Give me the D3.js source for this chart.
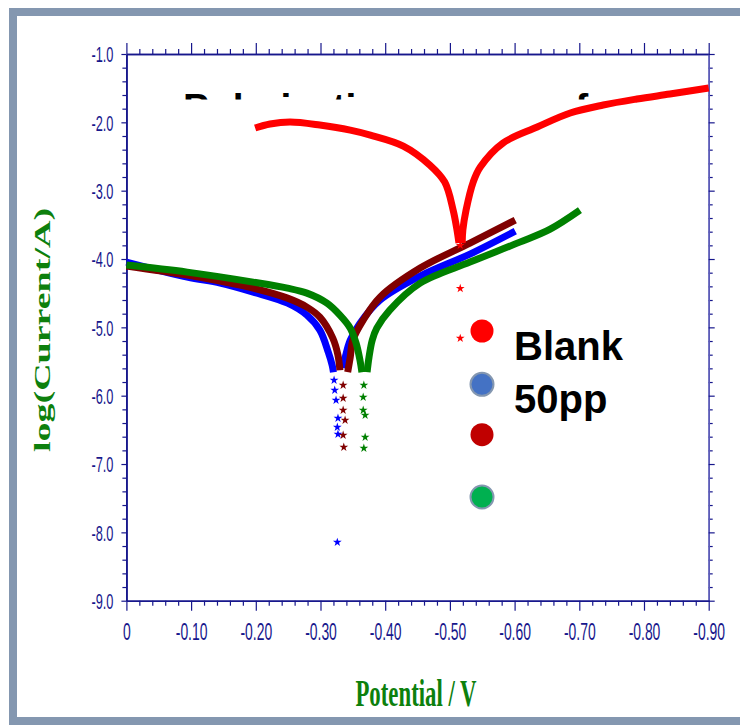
<!DOCTYPE html>
<html>
<head>
<meta charset="utf-8">
<script src="https://cdn.jsdelivr.net/npm/d3@7"></script>
<style>
  body { margin: 0; background: #fff; }
  svg { display: block; }
</style>
</head>
<body>
<div id="chart"></div>
<script>
// potential (V) / log(I) pairs, each curve split at its minimum
const blankLeft = [[-0.199,-2.083],[-0.222,-2.025],[-0.253,-1.996],[-0.299,-2.040],[-0.346,-2.113],[-0.377,-2.186],[-0.428,-2.347],[-0.469,-2.625],[-0.492,-2.874],[-0.505,-3.284],[-0.511,-3.577],[-0.514,-3.767]];
const blankRight = [[-0.519,-3.767],[-0.520,-3.577],[-0.525,-3.284],[-0.536,-2.874],[-0.547,-2.654],[-0.582,-2.303],[-0.635,-2.069],[-0.686,-1.864],[-0.737,-1.747],[-0.789,-1.659],[-0.840,-1.586],[-0.900,-1.498]];
const blankStars = [[-0.516,-3.80],[-0.516,-4.43],[-0.516,-5.16]];

const blueLeft = [[0,-4.045],[-0.094,-4.265],[-0.145,-4.353],[-0.196,-4.485],[-0.249,-4.646],[-0.279,-4.821],[-0.299,-5.041],[-0.312,-5.363],[-0.318,-5.553],[-0.320,-5.656]];
const blueRight = [[-0.335,-5.597],[-0.339,-5.407],[-0.346,-5.187],[-0.361,-4.939],[-0.392,-4.602],[-0.454,-4.250],[-0.531,-3.928],[-0.601,-3.592]];
const blueStars = [[-0.321,-5.773],[-0.322,-5.919],[-0.324,-6.066],[-0.327,-6.329],[-0.326,-6.461],[-0.327,-6.564],[-0.326,-8.145]];

const maroonLeft = [[0,-4.104],[-0.094,-4.236],[-0.145,-4.324],[-0.196,-4.426],[-0.249,-4.572],[-0.279,-4.704],[-0.299,-4.851],[-0.319,-5.158],[-0.327,-5.407],[-0.330,-5.627]];
const maroonRight = [[-0.342,-5.656],[-0.346,-5.436],[-0.350,-5.187],[-0.366,-4.895],[-0.392,-4.558],[-0.454,-4.133],[-0.531,-3.767],[-0.601,-3.430]];
const maroonStars = [[-0.335,-5.846],[-0.335,-6.037],[-0.335,-6.212],[-0.338,-6.359],[-0.335,-6.578],[-0.336,-6.754]];

const greenLeft = [[0,-4.089],[-0.094,-4.192],[-0.196,-4.338],[-0.249,-4.426],[-0.279,-4.499],[-0.310,-4.646],[-0.330,-4.821],[-0.346,-5.012],[-0.355,-5.231],[-0.361,-5.480],[-0.364,-5.656]];
const greenRight = [[-0.372,-5.656],[-0.375,-5.436],[-0.380,-5.187],[-0.387,-5.012],[-0.407,-4.748],[-0.454,-4.353],[-0.531,-4.045],[-0.608,-3.753],[-0.655,-3.562],[-0.701,-3.284]];
const greenStars = [[-0.367,-5.846],[-0.366,-6.022],[-0.366,-6.212],[-0.369,-6.286],[-0.369,-6.608],[-0.367,-6.769]];

const xMajor = [0,-0.1,-0.2,-0.3,-0.4,-0.5,-0.6,-0.7,-0.8,-0.9];
const yMajor = [-1,-2,-3,-4,-5,-6,-7,-8,-9];
const legendNames = ['Blank', '50pp', '', ''];
const legendFill = ['#ff0000', '#4472c4', '#c00000', '#00b050'];

const W = 740, H = 725;
const navy = '#17178c', labelGreen = '#0d800d';
const sq = 0.58; // the chart text is squeezed sideways

const svg = d3.select('#chart').append('svg').attr('width', W).attr('height', H);

// frame
svg.append('rect')
    .attr('x', 13).attr('y', 12).attr('width', 780).attr('height', 709)
    .attr('fill', '#fff').attr('stroke', '#8497b0').attr('stroke-width', 8);

const x = d3.scaleLinear().domain([0, -0.9]).range([126.4, 708.7]);
const y = d3.scaleLinear().domain([-1, -9]).range([54, 600.7]);

const xMinor = d3.range(0, -0.9001, -0.02).filter(v => Math.abs(v * 10 - Math.round(v * 10)) > 1e-6);
const yMinor = d3.range(-1, -9.001, -0.2).filter(v => Math.abs(v - Math.round(v)) > 1e-6);

// clipped title
svg.append('clipPath').attr('id', 'titleClip')
    .append('rect').attr('x', 0).attr('y', 0).attr('width', W).attr('height', 99.5);
svg.append('text')
    .attr('clip-path', 'url(#titleClip)')
    .attr('x', 183).attr('y', 121)
    .attr('font-family', 'Liberation Sans, Arial, sans-serif')
    .attr('font-weight', 'bold').attr('font-size', 39)
    .attr('fill', '#000')
    .text('Polarization curves of');

function styleAxis(g, color) {
    g.select('.domain').attr('stroke', color).attr('stroke-width', 1.6);
    g.selectAll('.tick line').attr('stroke', navy).attr('stroke-width', 1.2);
}

// minor ticks
svg.append('g').attr('transform', `translate(0,${y(-1)})`)
    .call(d3.axisTop(x).tickValues(xMinor).tickSize(5).tickSizeOuter(0).tickFormat(''))
    .call(styleAxis, navy);
svg.append('g').attr('transform', `translate(0,${y(-9)})`)
    .call(d3.axisBottom(x).tickValues(xMinor).tickSize(5).tickSizeOuter(0).tickFormat(''))
    .call(styleAxis, navy);
svg.append('g').attr('transform', `translate(${x(0)},0)`)
    .call(d3.axisLeft(y).tickValues(yMinor).tickSize(4).tickSizeOuter(0).tickFormat(''))
    .call(styleAxis, navy);
svg.append('g').attr('transform', `translate(${x(-0.9)},0)`)
    .call(d3.axisRight(y).tickValues(yMinor).tickSize(4).tickSizeOuter(0).tickFormat(''))
    .call(styleAxis, '#5c5cb8');

// major ticks
svg.append('g').attr('transform', `translate(0,${y(-1)})`)
    .call(d3.axisTop(x).tickValues(xMajor).tickSize(11).tickSizeOuter(0).tickFormat(''))
    .call(styleAxis, navy);
svg.append('g').attr('transform', `translate(${x(-0.9)},0)`)
    .call(d3.axisRight(y).tickValues(yMajor).tickSize(6).tickSizeOuter(0).tickFormat(''))
    .call(styleAxis, '#5c5cb8');

const xAxis = svg.append('g').attr('transform', `translate(0,${y(-9)})`)
    .call(d3.axisBottom(x).tickValues(xMajor).tickSize(10).tickSizeOuter(0)
        .tickFormat(d => d === 0 ? '0' : d.toFixed(2)))
    .call(styleAxis, navy);
xAxis.selectAll('text')
    .attr('y', 0).attr('dy', null)
    .attr('transform', `translate(0,39) scale(${sq},1)`)
    .attr('fill', navy)
    .attr('font-family', 'Liberation Sans, Arial, sans-serif')
    .attr('font-size', 24);

const yAxis = svg.append('g').attr('transform', `translate(${x(0)},0)`)
    .call(d3.axisLeft(y).tickValues(yMajor).tickSize(5).tickSizeOuter(0)
        .tickFormat(d => d.toFixed(1)))
    .call(styleAxis, navy);
yAxis.selectAll('text')
    .attr('x', 0).attr('dy', '0.36em')
    .attr('transform', `translate(-13,0) scale(${sq},1)`)
    .attr('fill', navy)
    .attr('font-family', 'Liberation Sans, Arial, sans-serif')
    .attr('font-size', 22);

// axis titles
svg.append('text')
    .attr('transform', `translate(416,706) scale(0.6,1)`)
    .attr('text-anchor', 'middle')
    .attr('font-family', 'Liberation Serif, Times New Roman, serif')
    .attr('font-weight', 'bold').attr('font-size', 38)
    .attr('fill', labelGreen)
    .text('Potential / V');
svg.append('text')
    .attr('transform', `translate(50,330) scale(0.6,1) rotate(-90)`)
    .attr('text-anchor', 'middle')
    .attr('font-family', 'Liberation Serif, Times New Roman, serif')
    .attr('font-weight', 'bold').attr('font-size', 38)
    .attr('fill', labelGreen)
    .text('log(Current/A)');

// curves
const line = d3.line().x(d => x(d[0])).y(d => y(d[1])).curve(d3.curveCatmullRom);
const star = d3.symbol().type(d3.symbolStar).size(24);

const curves = [
    { color: '#0000ff', parts: [blueLeft, blueRight], stars: blueStars },
    { color: '#800000', parts: [maroonLeft, maroonRight], stars: maroonStars },
    { color: '#008000', parts: [greenLeft, greenRight], stars: greenStars },
    { color: '#ff0000', parts: [blankLeft, blankRight], stars: blankStars }
];

curves.forEach(c => {
    const g = svg.append('g');
    c.parts.forEach(p => {
        g.append('path')
            .attr('d', line(p))
            .attr('fill', 'none')
            .attr('stroke', c.color)
            .attr('stroke-width', 7);
    });
    g.selectAll('.star').data(c.stars).enter().append('path')
        .attr('transform', d => `translate(${x(d[0])},${y(d[1])})`)
        .attr('d', star)
        .attr('fill', c.color);
});

// legend
const legY = d3.scalePoint().domain(d3.range(legendNames.length)).range([331, 497]);
const legOffsets = [0, -2, -7, 0]; // uneven spacing in the picture
legendNames.forEach((name, i) => {
    const cy = legY(i) + legOffsets[i];
    svg.append('circle')
        .attr('cx', 482).attr('cy', cy).attr('r', 11.5)
        .attr('fill', legendFill[i])
        .attr('stroke', i === 1 || i === 3 ? '#8497b0' : 'none')
        .attr('stroke-width', 2);
    if (name) {
        svg.append('text')
            .attr('x', 514).attr('y', cy + 29)
            .attr('font-family', 'Liberation Sans, Arial, sans-serif')
            .attr('font-weight', 'bold').attr('font-size', 40)
            .attr('fill', '#000')
            .text(name);
    }
});
</script>
</body>
</html>
